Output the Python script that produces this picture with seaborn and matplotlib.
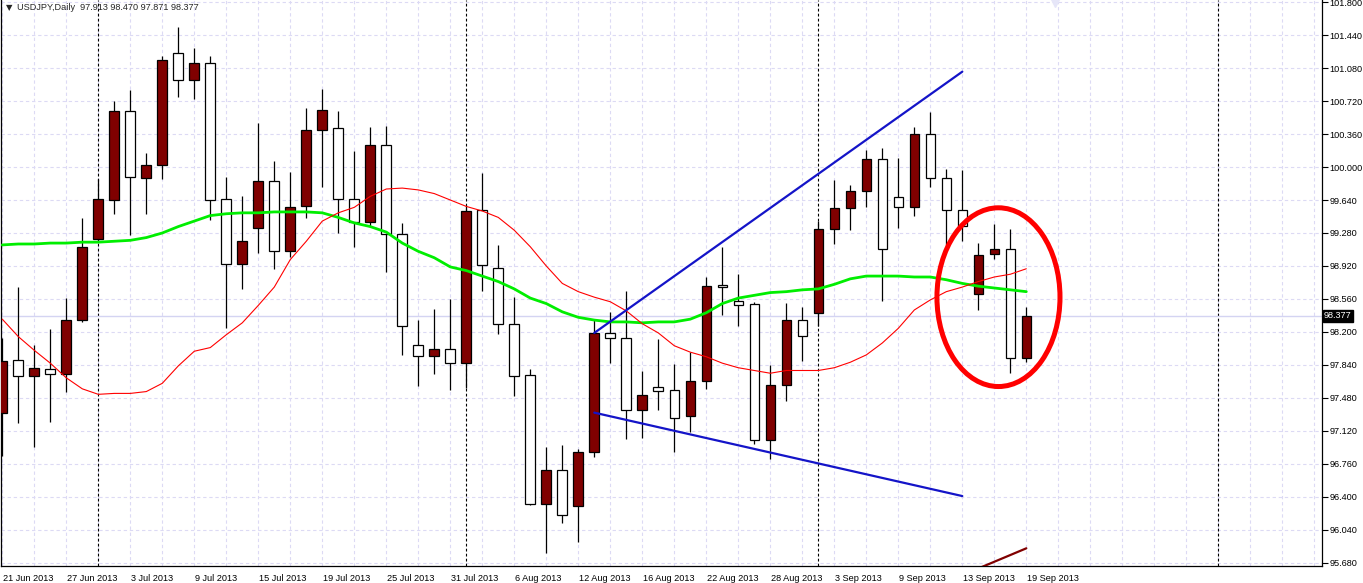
import numpy as np
import pandas as pd
import matplotlib
matplotlib.use("Agg")
import matplotlib.pyplot as plt
import matplotlib.transforms as mtransforms
from matplotlib.patches import Ellipse
import seaborn as sns

# daily bars, 21 Jun 2013 .. 19 Sep 2013 (65 trading days)
dates = pd.bdate_range("2013-06-21", "2013-09-19")

opens = [97.32, 97.89, 97.72, 97.80, 97.74, 98.33, 99.21, 99.64, 100.61, 99.88,
         100.02, 101.24, 100.95, 101.13, 99.65, 98.94, 99.33, 99.85, 99.08, 99.57,
         100.40, 100.43, 99.65, 99.40, 100.24, 99.27, 98.06, 97.94, 98.01, 97.86,
         99.53, 98.90, 98.29, 97.73, 96.32, 96.69, 96.30, 96.89, 98.19, 98.13,
         97.35, 97.60, 97.57, 97.28, 97.67, 98.71, 98.54, 98.51, 97.02, 97.62,
         98.33, 98.41, 99.32, 99.55, 99.74, 100.09, 99.67, 99.56, 100.36, 99.88,
         99.53, 98.61, 99.05, 99.11, 97.913]
highs = [98.13, 98.69, 98.06, 98.23, 98.57, 99.44, 99.87, 100.72, 100.84, 100.15,
         101.21, 101.53, 101.30, 101.21, 99.89, 99.68, 100.48, 100.07, 99.95, 100.64,
         100.85, 100.61, 100.17, 100.44, 100.45, 99.39, 98.33, 98.45, 98.56, 99.59,
         99.93, 99.15, 98.58, 97.80, 96.94, 96.97, 96.92, 98.33, 98.42, 98.65,
         97.77, 98.12, 97.85, 97.98, 98.80, 99.13, 98.83, 98.53, 97.84, 98.52,
         98.47, 99.41, 99.86, 99.80, 100.19, 100.21, 100.10, 100.44, 100.60, 99.98,
         99.97, 99.17, 99.38, 99.32, 98.470]
lows = [96.85, 97.21, 96.95, 97.22, 97.55, 98.31, 99.19, 99.49, 99.26, 99.49,
        99.87, 100.76, 100.74, 99.42, 98.24, 98.67, 99.06, 98.89, 99.02, 99.44,
        99.78, 99.28, 99.13, 99.35, 98.85, 97.95, 97.61, 97.74, 97.57, 97.59,
        98.65, 98.18, 97.50, 96.31, 95.79, 96.12, 95.91, 96.84, 97.86, 97.03,
        97.04, 97.35, 96.89, 97.11, 97.58, 98.39, 98.27, 96.98, 96.81, 97.45,
        97.88, 98.27, 99.16, 99.31, 99.56, 98.54, 99.33, 99.47, 99.78, 99.15,
        99.19, 98.44, 99.00, 97.75, 97.871]
closes = [97.88, 97.72, 97.81, 97.74, 98.33, 99.13, 99.65, 100.61, 99.89, 100.02,
          101.17, 100.95, 101.13, 99.64, 98.94, 99.19, 99.85, 99.08, 99.56, 100.40,
          100.62, 99.65, 99.40, 100.24, 99.27, 98.27, 97.94, 98.01, 97.86, 99.52,
          98.93, 98.29, 97.72, 96.32, 96.69, 96.20, 96.89, 98.19, 98.13, 97.35,
          97.51, 97.56, 97.26, 97.67, 98.70, 98.69, 98.49, 97.02, 97.62, 98.33,
          98.16, 99.32, 99.55, 99.74, 100.09, 99.11, 99.56, 100.36, 99.88, 99.53,
          99.36, 99.04, 99.11, 97.92, 98.377]

ma_slow = [99.15, 99.16, 99.16, 99.17, 99.17, 99.18, 99.18, 99.19, 99.20, 99.23,
           99.28, 99.35, 99.41, 99.47, 99.49, 99.50, 99.50, 99.51, 99.51, 99.51,
           99.50, 99.45, 99.39, 99.35, 99.29, 99.17, 99.08, 99.01, 98.91, 98.87,
           98.81, 98.75, 98.67, 98.57, 98.51, 98.42, 98.36, 98.33, 98.31, 98.31,
           98.30, 98.31, 98.31, 98.34, 98.41, 98.51, 98.57, 98.60, 98.63, 98.64,
           98.66, 98.67, 98.72, 98.78, 98.81, 98.81, 98.81, 98.80, 98.80, 98.77,
           98.73, 98.70, 98.68, 98.66, 98.64]
ma_fast = [98.34, 98.15, 98.00, 97.86, 97.70, 97.58, 97.52, 97.53, 97.53, 97.55,
           97.64, 97.83, 97.99, 98.03, 98.17, 98.30, 98.49, 98.69, 98.99, 99.19,
           99.41, 99.50, 99.56, 99.68, 99.76, 99.77, 99.75, 99.71, 99.64, 99.57,
           99.52, 99.45, 99.31, 99.13, 98.92, 98.73, 98.64, 98.58, 98.53, 98.43,
           98.29, 98.19, 98.05, 97.98, 97.93, 97.86, 97.81, 97.78, 97.75, 97.78,
           97.78, 97.78, 97.81, 97.87, 97.95, 98.08, 98.24, 98.44, 98.55, 98.64,
           98.69, 98.75, 98.80, 98.83, 98.89]

tick_labels = ["21 Jun 2013", "27 Jun 2013", "3 Jul 2013", "9 Jul 2013", "15 Jul 2013",
               "19 Jul 2013", "25 Jul 2013", "31 Jul 2013", "6 Aug 2013", "12 Aug 2013",
               "16 Aug 2013", "22 Aug 2013", "28 Aug 2013", "3 Sep 2013", "9 Sep 2013",
               "13 Sep 2013", "19 Sep 2013"]
price_levels = [95.68, 96.04, 96.40, 96.76, 97.12, 97.48, 97.84, 98.20, 98.56,
                98.92, 99.28, 99.64, 100.00, 100.36, 100.72, 101.08, 101.44, 101.80]
separators = [6, 29, 51, 76]          # period separators (bar index)
upper_line = ([37, 60], [98.19, 101.04])
lower_line = ([37, 60], [97.32, 96.41])
old_line = ([61.0, 64.0], [95.62, 95.84])
last_price = 98.377


def main():
    sns.set_style("white")
    plt.rcParams['font.family'] = ['Liberation Sans', 'DejaVu Sans']
    fs = 6.6

    df = pd.DataFrame({'date': dates, 'open': opens, 'high': highs, 'low': lows,
                       'close': closes, 'ma_slow': ma_slow, 'ma_fast': ma_fast})
    df['idx'] = np.arange(len(df))
    df['up'] = df['close'] >= df['open']

    W, H = 1363, 583
    fig = plt.figure(figsize=(W / 100, H / 100), dpi=100)
    ax = fig.add_axes([1 / W, 17 / H, 1321 / W, 566 / H])

    ax.set_xlim(-0.08, 82.48)
    ax.set_ylim(95.647, 101.822)

    # grid
    grid_col = '#dcdaf4'
    for gx in range(0, 83, 2):
        ax.axvline(gx, color=grid_col, lw=0.8, ls=(0, (3, 2.5)), zorder=0)
    for gy in price_levels:
        ax.axhline(gy, color=grid_col, lw=0.8, ls=(0, (3, 2.5)), zorder=0)
    for sx in separators:
        ax.axvline(sx, color='black', lw=0.8, ls=(0, (2.5, 2)), zorder=1)
    ax.axhline(last_price, color='#d4d4f2', lw=1.0, zorder=1)

    # candles
    ax.vlines(df['idx'], df['low'], df['high'], color='black', lw=0.9, zorder=2)
    body_lo = np.minimum(df['open'], df['close'])
    body_h = np.maximum(np.abs(df['close'] - df['open']), 0.01)
    colors = np.where(df['up'], '#800000', 'white')
    ax.bar(df['idx'], body_h, bottom=body_lo, width=0.6, color=colors,
           edgecolor='black', linewidth=0.9, zorder=3)

    # moving averages
    sns.lineplot(data=df, x='idx', y='ma_slow', color='#00ee00', lw=2.0, ax=ax, zorder=4)
    sns.lineplot(data=df, x='idx', y='ma_fast', color='#ff0000', lw=0.8, ax=ax, zorder=4)

    # drawn objects
    ax.plot(*upper_line, color='#1414c8', lw=1.6, zorder=5)
    ax.plot(*lower_line, color='#1414c8', lw=1.6, zorder=5)
    ax.plot(*old_line, color='#800000', lw=1.6, zorder=5)
    ax.add_patch(Ellipse((62.26, 98.58), 7.69, 1.95, fill=False, edgecolor='#ff0000',
                         lw=3.6, zorder=6))
    ax.plot(65.8, 101.80, marker='v', ms=7, color='#e6e6f8', mec='#e6e6f8',
            clip_on=False, zorder=6)

    # axes
    ax.set_xlabel('')
    ax.set_ylabel('')
    ax.set_xticks(np.arange(0, 65, 4))
    ax.set_xticklabels(tick_labels, ha='left', fontsize=fs)
    ax.yaxis.tick_right()
    ax.set_yticks(price_levels)
    ax.set_yticklabels([f'{v:.3f}' for v in price_levels], fontsize=fs)
    ax.tick_params(axis='x', direction='out', length=4, width=0.8, pad=2, colors='black')
    ax.tick_params(axis='y', direction='out', length=4, width=0.8, pad=1.5, colors='black')
    offset = mtransforms.ScaledTranslation(1 / 100, 0, fig.dpi_scale_trans)
    for lab in ax.get_xticklabels():
        lab.set_transform(lab.get_transform() + offset)
    for side in ['left', 'bottom', 'right']:
        ax.spines[side].set_color('black')
        ax.spines[side].set_linewidth(0.9)
    ax.spines['top'].set_visible(False)

    # last price tag
    trans = mtransforms.blended_transform_factory(ax.transAxes, ax.transData)
    ax.text(1.0015, last_price, '98.377', transform=trans, fontsize=fs, color='white',
            va='center', ha='left',
            bbox=dict(boxstyle='square,pad=0.15', fc='black', ec='black'), zorder=10)

    # header
    fig.text(6 / W, 1 - 8 / H, '\u25bc', fontsize=6, va='center', ha='left',
             family=['DejaVu Sans'])
    fig.text(17 / W, 1 - 8 / H, 'USDJPY,Daily  97.913 98.470 97.871 98.377',
             fontsize=fs, va='center', ha='left')

    fig.savefig('out.png', dpi=100)


if __name__ == '__main__':
    main()
